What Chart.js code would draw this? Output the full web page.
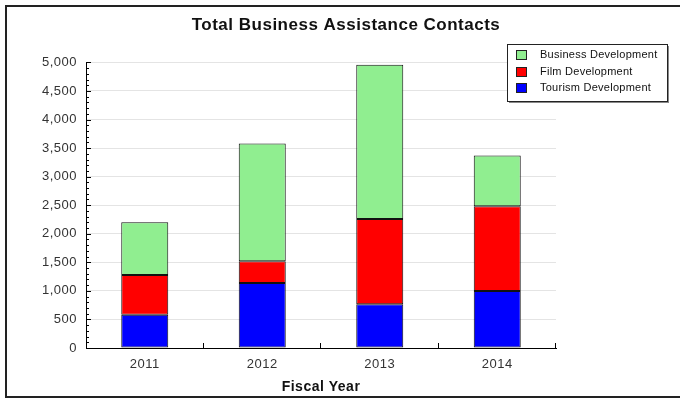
<!DOCTYPE html>
<html>
<head>
<meta charset="utf-8">
<script src="https://cdn.jsdelivr.net/npm/chart.js@4"></script>
<style>
  html, body { margin: 0; padding: 0; background: #fff; }
  #wrap { width: 680px; height: 399px; }
</style>
</head>
<body>
<div id="wrap"><canvas id="chart"></canvas></div>
<script>
// values
const years = ["2011", "2012", "2013", "2014"];
const tourism = [580, 1140, 765, 1000];
const film = [700, 380, 1495, 1480];
const business = [920, 2060, 2700, 890];

Chart.defaults.font.family = "'Liberation Sans', Arial, sans-serif";
Chart.defaults.color = "#222";

// the reference text is set a little wider than canvas defaults
const spacing = {
  id: "spacing",
  beforeDraw(chart) { chart.ctx.letterSpacing = "0.5px"; }
};

// frame round the picture (no right edge in the reference)
const frame = {
  id: "frame",
  afterDraw(chart) {
    const ctx = chart.ctx;
    ctx.save();
    ctx.strokeStyle = "#222";
    ctx.lineWidth = 2;
    ctx.beginPath();
    ctx.moveTo(chart.width + 5, 6);
    ctx.lineTo(6, 6);
    ctx.lineTo(6, 397);
    ctx.lineTo(chart.width + 5, 397);
    ctx.stroke();
    ctx.restore();
  }
};

// small inward tick marks on both axes
const axisTicks = {
  id: "axisTicks",
  afterDatasetsDraw(chart) {
    const ctx = chart.ctx;
    const x = chart.scales.x, y = chart.scales.y;
    ctx.save();
    ctx.strokeStyle = "#000";
    ctx.lineWidth = 1;
    ctx.beginPath();
    for (let v = 0; v <= 5000; v += 100) {
      const py = Math.round(y.getPixelForValue(v)) + 0.5;
      const len = v % 500 === 0 ? 5 : 3;
      ctx.moveTo(x.left, py);
      ctx.lineTo(x.left + len, py);
    }
    const w = (x.right - x.left) / years.length;
    for (let i = 1; i <= years.length; i++) {
      const px = Math.round(x.getPixelForValue(i - 1) + w / 2) - 0.5;
      ctx.moveTo(px, y.bottom);
      ctx.lineTo(px, y.bottom - 5);
    }
    ctx.stroke();
    ctx.restore();
  }
};

// boxed legend sitting over the top right of the plot
const boxLegend = {
  id: "boxLegend",
  afterDraw(chart) {
    const ctx = chart.ctx;
    const left = chart.width - 173, top = 44, bw = 160, bh = 57;
    ctx.save();
    ctx.letterSpacing = "0.25px";
    ctx.fillStyle = "#888";
    ctx.fillRect(left + 2, top + 2, bw, bh);
    ctx.fillStyle = "#fff";
    ctx.fillRect(left, top, bw, bh);
    ctx.strokeStyle = "#222";
    ctx.lineWidth = 1;
    ctx.strokeRect(left + 0.5, top + 0.5, bw, bh);
    ctx.font = "11px 'Liberation Sans', Arial, sans-serif";
    ctx.textBaseline = "middle";
    const sets = chart.data.datasets.slice().reverse();
    sets.forEach((ds, i) => {
      const cy = top + 11 + i * 16.5;
      ctx.fillStyle = ds.backgroundColor;
      ctx.fillRect(left + 9, Math.round(cy - 5), 11, 10);
      ctx.strokeStyle = "#222";
      ctx.strokeRect(left + 9.5, Math.round(cy - 5) + 0.5, 10, 9);
      ctx.fillStyle = "#111";
      ctx.fillText(ds.label, left + 33, cy);
    });
    ctx.restore();
  }
};

new Chart("chart", {
  type: "bar",
  data: {
    labels: years,
    datasets: [
      { label: "Tourism Development", data: tourism, backgroundColor: "#0000ff" },
      { label: "Film Development", data: film, backgroundColor: "#ff0000" },
      { label: "Business Development", data: business, backgroundColor: "#90ee90" }
    ]
  },
  options: {
    responsive: true,
    maintainAspectRatio: false,
    animation: false,
    layout: { padding: { left: 12, right: 0, top: 0, bottom: 0 } },
    datasets: {
      bar: {
        borderColor: "#111",
        borderWidth: 1,
        borderSkipped: false,
        barPercentage: 0.4,
        categoryPercentage: 1.0
      }
    },
    plugins: {
      legend: { display: false },
      tooltip: { enabled: false },
      title: {
        display: true,
        text: "Total Business Assistance Contacts",
        color: "#111",
        font: { size: 17, weight: "bold" },
        padding: { top: 15, bottom: 27 }
      }
    },
    scales: {
      x: {
        stacked: true,
        grid: { drawOnChartArea: false, drawTicks: false },
        border: { color: "#000", width: 1 },
        ticks: { padding: 9, font: { size: 13 }, color: "#333" },
        title: {
          display: true,
          text: "Fiscal Year",
          color: "#111",
          font: { size: 14, weight: "bold" },
          padding: { top: 0, bottom: 3 }
        },
        afterFit(scale) { scale.height = 51; }
      },
      y: {
        stacked: true,
        min: 0,
        max: 5000,
        grid: { color: "#e4e4e4", drawTicks: false },
        border: { color: "#000", width: 1 },
        ticks: { stepSize: 500, padding: 9, font: { size: 13 }, color: "#333" },
        afterFit(scale) { scale.width = 74; }
      },
      // empty right-hand space where the legend hangs
      yRight: {
        type: "linear",
        position: "right",
        grid: { display: false, drawTicks: false },
        border: { display: false },
        ticks: { display: false },
        afterFit(scale) { scale.width = 124; }
      }
    }
  },
  plugins: [spacing, frame, axisTicks, boxLegend]
});
</script>
</body>
</html>
